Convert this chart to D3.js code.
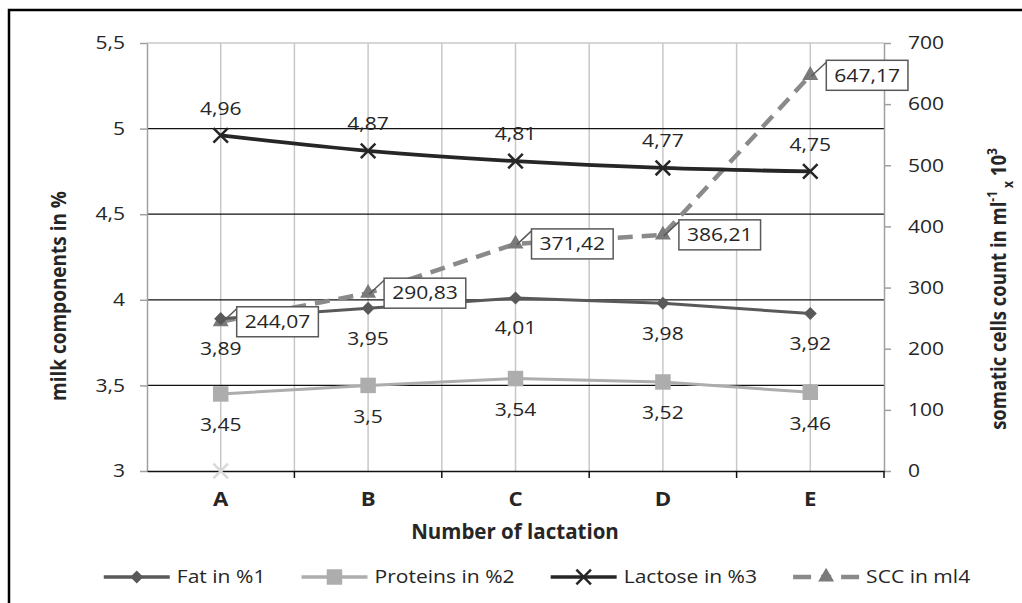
<!DOCTYPE html>
<html>
<head>
<meta charset="utf-8">
<script src="https://cdn.jsdelivr.net/npm/d3@7"></script>
<style>
  body { margin: 0; background: #fff; }
  text { font-family: "Open Sans", sans-serif; fill: #262626; }
</style>
</head>
<body>
<svg id="chart" width="1022" height="603"></svg>
<script>
const categories = ["A", "B", "C", "D", "E"];
const fatValues = [3.89, 3.95, 4.01, 3.98, 3.92];
const proteinValues = [3.45, 3.5, 3.54, 3.52, 3.46];
const lactoseValues = [4.96, 4.87, 4.81, 4.77, 4.75];
const sccValues = [244.07, 290.83, 371.42, 386.21, 647.17];
const leftTicks = [3, 3.5, 4, 4.5, 5, 5.5];
const rightTicks = [0, 100, 200, 300, 400, 500, 600, 700];
const legendNames = ["Fat in %1", "Proteins in %2", "Lactose in %3", "SCC in ml4"];
const loneMark = { category: "A", value: 3 };

const plot = { left: 147, right: 884, top: 43, bottom: 471 };
const SX = 1.17; // the picture's text is a bit wider than the font
const comma = d => String(d).replace(".", ",");

const colours = {
  fat: "#595959",
  protein: "#adadad",
  lactose: "#262626",
  scc: "#8a8a8a",
  sccMark: "#7a7a7a",
  grid: "#c8c8c8",
  axis: "#a0a0a0"
};

const svg = d3.select("#chart");

// outer frame, its right and bottom sides fall outside the window
svg.append("rect")
  .attr("x", 9).attr("y", 10)
  .attr("width", 1040).attr("height", 640)
  .attr("fill", "none").attr("stroke", "#000").attr("stroke-width", 2.5);

const x = d3.scaleBand().domain(categories).range([plot.left, plot.right]);
const cx = c => x(c) + x.bandwidth() / 2;
const yL = d3.scaleLinear().domain([3, 5.5]).range([plot.bottom, plot.top]);
const yR = d3.scaleLinear().domain([0, 700]).range([plot.bottom, plot.top]);

const wideText = (g, px, py, txt) =>
  g.append("text")
    .attr("transform", `translate(${px},${py}) scale(${SX},1)`)
    .text(txt);

// grid
const grid = svg.append("g").attr("class", "grid");
const vLines = [];
categories.forEach((c, i) => {
  if (i > 0) vLines.push(x(c));
  vLines.push(cx(c));
});
grid.selectAll(".v").data(vLines).enter().append("line")
  .attr("x1", d => d).attr("x2", d => d)
  .attr("y1", plot.top).attr("y2", plot.bottom)
  .attr("stroke", colours.grid).attr("stroke-width", 1.5);

grid.selectAll(".h").data(leftTicks.slice(1)).enter().append("line")
  .attr("x1", plot.left).attr("x2", plot.right)
  .attr("y1", d => yL(d)).attr("y2", d => yL(d))
  .attr("stroke", d => d === 5.5 ? colours.grid : "#111")
  .attr("stroke-width", d => d === 5.5 ? 1.5 : 1.2);

// axes
const leftAxis = svg.append("g")
  .attr("transform", `translate(${plot.left},0)`)
  .call(d3.axisLeft(yL).tickValues(leftTicks).tickFormat(comma).tickSize(7).tickPadding(15).tickSizeOuter(0));

const rightAxis = svg.append("g")
  .attr("transform", `translate(${plot.right},0)`)
  .call(d3.axisRight(yR).tickValues(rightTicks).tickSize(7).tickPadding(17).tickSizeOuter(0));

[leftAxis, rightAxis].forEach(a => {
  a.select(".domain").attr("stroke", colours.axis).attr("stroke-width", 1.5);
  a.selectAll(".tick line").attr("stroke", colours.axis).attr("stroke-width", 1.5);
  a.selectAll(".tick text")
    .attr("font-family", "Open Sans").attr("font-size", 18).attr("fill", "#262626")
    .attr("transform", `scale(${SX},1)`);
});
leftAxis.selectAll(".tick text").attr("x", -22 / SX);
rightAxis.selectAll(".tick text").attr("x", 24 / SX);

const bottomAxis = svg.append("g")
  .attr("transform", `translate(0,${plot.bottom})`)
  .call(d3.axisBottom(x).tickSize(0).tickPadding(22).tickSizeOuter(0));
bottomAxis.select(".domain").attr("stroke", "#111").attr("stroke-width", 1.5);
bottomAxis.selectAll(".tick text")
  .attr("font-family", "Open Sans").attr("font-weight", "bold")
  .attr("font-size", 19).attr("fill", "#1a1a1a")
  .attr("transform", `scale(${SX},1)`);
bottomAxis.selectAll(".sep").data(categories.slice(1).map(c => x(c)).concat([plot.right]))
  .enter().append("line")
  .attr("x1", d => d).attr("x2", d => d)
  .attr("y1", 0).attr("y2", 7)
  .attr("stroke", "#111").attr("stroke-width", 1.5);

// axis titles
svg.append("text")
  .attr("x", 515).attr("y", 539)
  .attr("text-anchor", "middle")
  .attr("font-weight", "bold").attr("font-size", 20.5).attr("fill", "#1a1a1a")
  .text("Number of lactation");

svg.append("text")
  .attr("transform", `translate(66,296) scale(${SX},1) rotate(-90)`)
  .attr("text-anchor", "middle")
  .attr("font-weight", "bold").attr("font-size", 19).attr("fill", "#1a1a1a")
  .text("milk components in %");

const rTitle = svg.append("text")
  .attr("transform", `translate(1006,289) scale(${SX},1) rotate(-90)`)
  .attr("text-anchor", "middle")
  .attr("font-weight", "bold").attr("font-size", 18.5).attr("fill", "#1a1a1a");
rTitle.append("tspan").text("somatic cells count in ml");
rTitle.append("tspan").attr("font-size", 12).attr("dy", -8).text("-1");
rTitle.append("tspan").attr("font-size", 12).attr("dy", 14).text(" x");
rTitle.append("tspan").attr("dy", -6).text(" 10");
rTitle.append("tspan").attr("font-size", 12).attr("dy", -8).text("3");

// series
const leftLine = d3.line().x((d, i) => cx(categories[i])).y(d => yL(d));
const smoothLine = d3.line().x((d, i) => cx(categories[i])).y(d => yL(d)).curve(d3.curveCatmullRom);
const sccLine = d3.line().x((d, i) => cx(categories[i])).y(d => yR(d));
const series = svg.append("g").attr("class", "series");

series.append("path").datum(sccValues)
  .attr("d", sccLine)
  .attr("fill", "none").attr("stroke", colours.scc)
  .attr("stroke-width", 4.5).attr("stroke-dasharray", "15,9");

series.append("path").datum(proteinValues)
  .attr("d", leftLine)
  .attr("fill", "none").attr("stroke", colours.protein).attr("stroke-width", 3);

series.append("path").datum(fatValues)
  .attr("d", leftLine)
  .attr("fill", "none").attr("stroke", colours.fat).attr("stroke-width", 3);

series.append("path").datum(lactoseValues)
  .attr("d", smoothLine)
  .attr("fill", "none").attr("stroke", colours.lactose).attr("stroke-width", 3.8);

// markers; the diamond is a square turned by 45 degrees
const symbols = {
  fat: { sym: d3.symbol().type(d3.symbolSquare).size(85), rot: 45 },
  protein: { sym: d3.symbol().type(d3.symbolSquare).size(240), rot: 0 },
  lactose: { sym: d3.symbol().type(d3.symbolTimes).size(140), rot: 0 },
  scc: { sym: d3.symbol().type(d3.symbolTriangle).size(110), rot: 0 }
};

const drawMarks = (values, yScale, s, fill, stroke) => {
  series.append("g").selectAll("path").data(values).enter().append("path")
    .attr("transform", (d, i) => `translate(${cx(categories[i])},${yScale(d)}) rotate(${s.rot})`)
    .attr("d", s.sym)
    .attr("fill", fill)
    .attr("stroke", stroke || "none")
    .attr("stroke-width", stroke ? 2.5 : 0);
};
drawMarks(sccValues, yR, symbols.scc, colours.sccMark);
drawMarks(proteinValues, yL, symbols.protein, colours.protein);
drawMarks(fatValues, yL, symbols.fat, colours.fat);
drawMarks(lactoseValues, yL, symbols.lactose, "none", colours.lactose);

// the lone pale cross on the base line at A
series.append("path")
  .attr("transform", `translate(${cx(loneMark.category)},${yL(loneMark.value)})`)
  .attr("d", symbols.lactose.sym)
  .attr("fill", "none").attr("stroke", "#d9d9d9").attr("stroke-width", 2.5);

// data labels
const labels = svg.append("g")
  .attr("font-size", 18).attr("text-anchor", "middle");
const addLabels = (values, offset) => {
  values.forEach((v, i) => {
    wideText(labels, cx(categories[i]), yL(v) + offset, comma(v)).attr("dy", "0.35em");
  });
};
addLabels(lactoseValues, -27);
addLabels(fatValues, 30);
addLabels(proteinValues, 31);

// SCC call-outs
const callouts = svg.append("g");
sccValues.forEach((v, i) => {
  const px = cx(categories[i]);
  const py = yR(v);
  const g = callouts.append("g");
  const bx = px + 16;
  const t = g.append("text")
    .attr("font-size", 18).attr("text-anchor", "middle").attr("dy", "0.35em")
    .text(comma(v));
  const w = t.node().getComputedTextLength() * SX + 16;
  t.attr("transform", `translate(${bx + w / 2},${py}) scale(${SX},1)`);
  g.insert("line", "text")
    .attr("x1", bx).attr("y1", py - 13)
    .attr("x2", px + 1).attr("y2", py + 1)
    .attr("stroke", "#595959").attr("stroke-width", 1.5);
  g.insert("rect", "text")
    .attr("x", bx).attr("y", py - 15)
    .attr("width", w).attr("height", 30)
    .attr("fill", "#fff").attr("stroke", "#595959").attr("stroke-width", 1.5);
});

// legend
const legendY = 577;
const legendItems = [
  { name: legendNames[0], colour: colours.fat, s: symbols.fat, fill: colours.fat },
  { name: legendNames[1], colour: colours.protein, s: symbols.protein, fill: colours.protein },
  { name: legendNames[2], colour: colours.lactose, s: symbols.lactose, stroke: colours.lactose },
  { name: legendNames[3], colour: colours.scc, s: symbols.scc, fill: colours.sccMark, dashed: true }
];
const legend = svg.append("g").attr("class", "legend");
const lineLen = 66, textGap = 7, itemGap = 36;
const items = legendItems.map(it => {
  const g = legend.append("g");
  const t = g.append("text").attr("font-size", 18).attr("dy", "0.35em").text(it.name);
  const tw = t.node().getComputedTextLength() * SX;
  return { it, g, t, tw };
});
const total = d3.sum(items, d => lineLen + textGap + d.tw) + itemGap * (items.length - 1);
let lx = 537 - total / 2;
items.forEach(({ it, g, t, tw }) => {
  g.append("line")
    .attr("x1", lx).attr("x2", lx + lineLen)
    .attr("y1", legendY).attr("y2", legendY)
    .attr("stroke", it.colour)
    .attr("stroke-width", it.dashed ? 4.5 : 3.5)
    .attr("stroke-dasharray", it.dashed ? "18,10,10,10,18" : null);
  g.append("path")
    .attr("transform", `translate(${lx + lineLen / 2},${legendY}) rotate(${it.s.rot})`)
    .attr("d", it.s.sym)
    .attr("fill", it.fill || "none")
    .attr("stroke", it.stroke || "none")
    .attr("stroke-width", it.stroke ? 2.5 : 0);
  t.attr("transform", `translate(${lx + lineLen + textGap},${legendY}) scale(${SX},1)`);
  lx += lineLen + textGap + tw + itemGap;
});
</script>
</body>
</html>
